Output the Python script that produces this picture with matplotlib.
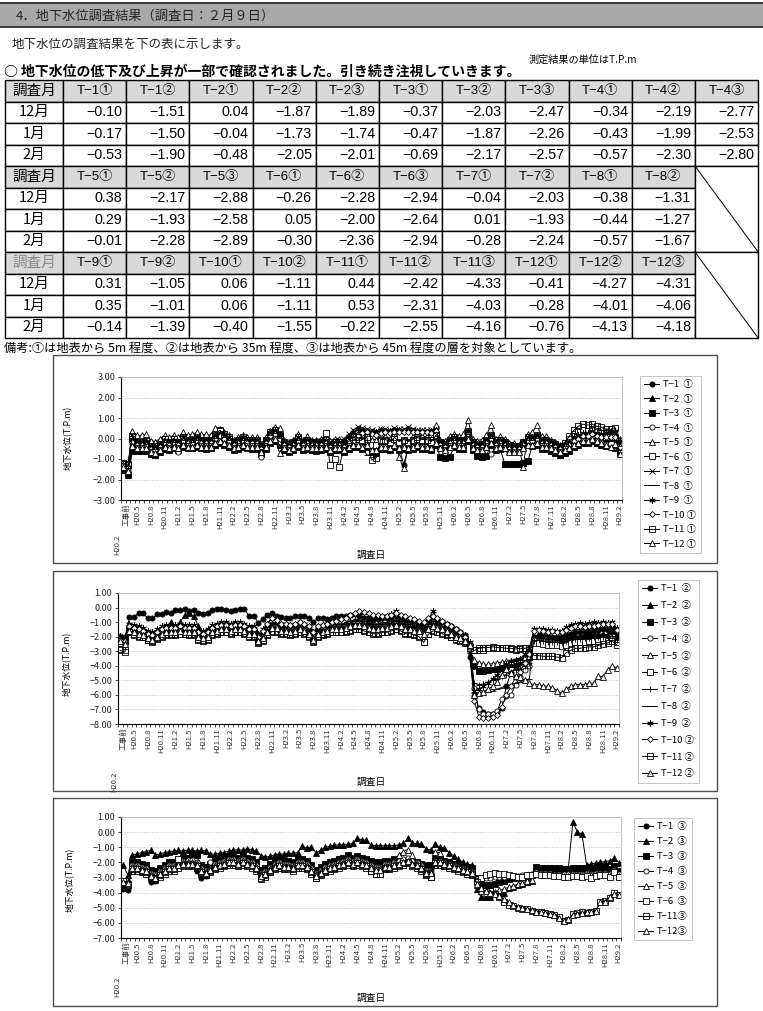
import numpy as np
import matplotlib
matplotlib.use("Agg")
import matplotlib.pyplot as plt
from matplotlib.patches import Rectangle

plt.rcParams['font.family'] = ['Noto Sans CJK JP', 'DejaVu Sans']

# ---------------- monthly groundwater levels (T.P.m), H20.2 .. H29.2 ----------------
# layer 1 (about 5m below ground)
t1_1 = [-1.45, -1.75, -0.55, -0.55, -0.50, -0.50, -0.55, -0.60, -0.45, -0.35,
        -0.40, -0.30, -0.35, -0.25, -0.30, -0.35, -0.25, -0.30, -0.35, -0.30,
        -0.10, 0.00, -0.10, -0.20, -0.40, -0.30, -0.20, -0.30, -0.35, -0.30,
        -0.55, -0.30, 0.00, 0.10, -0.10, -0.40, -0.50, -0.40, -0.20, -0.40,
        -0.30, -0.40, -0.40, -0.35, -0.30, -0.45, -0.40, -0.35, -0.45, -0.30,
        -0.20, -0.20, -0.30, -0.20, -0.45, -0.50, -0.30, -0.30, -0.40, -0.20,
        -0.40, -1.27, -0.45, -0.30, -0.20, -0.30, -0.30, -0.40, -0.10, -0.40,
        -0.50, -0.30, -0.20, -0.30, -0.30, 0.10, -0.40, -0.50, -0.50, -0.30,
        -0.10, -0.40, -0.30, -0.40, -0.60, -0.60, -0.55, -0.40, -0.20, -0.20,
        -0.10, -0.30, -0.30, -0.40, -0.50, -0.60, -0.50, -0.40, -0.20, -0.10,
        0.00, 0.00, 0.10, 0.00, -0.10, -0.15, -0.10, -0.17, -0.53]
t2_1 = [-1.30, -1.55, 0.05, -0.10, -0.15, -0.10, -0.35, -0.40, -0.25, -0.05,
        -0.15, -0.05, -0.15, 0.05, -0.05, -0.05, 0.05, -0.05, -0.05, -0.05,
        0.15, 0.30, 0.15, 0.00, -0.20, -0.10, 0.00, -0.10, -0.10, -0.10,
        -0.40, -0.10, 0.25, 0.40, 0.15, -0.20, -0.30, -0.20, 0.00, -0.20,
        -0.10, -0.20, -0.20, -0.15, -0.10, -0.30, -0.20, -0.20, -0.30, -0.10,
        0.00, 0.00, -0.10, 0.00, -0.30, -0.30, -0.10, -0.10, -0.20, 0.00,
        -0.20, -0.10, -0.20, -0.10, 0.00, -0.10, -0.10, -0.20, 0.15, -0.20,
        -0.30, -0.10, 0.00, -0.10, -0.10, 0.30, -0.20, -0.30, -0.30, -0.10,
        0.10, -0.20, -0.10, -0.20, -0.40, -0.40, -0.40, -0.20, 0.00, 0.00,
        0.10, -0.10, -0.10, -0.20, -0.30, -0.40, -0.30, -0.20, 0.00, 0.10,
        0.20, 0.20, 0.30, 0.20, 0.10, 0.05, 0.04, -0.04, -0.48]
t3_1 = [-1.55, -1.80, -0.60, -0.60, -0.60, -0.60, -0.75, -0.80, -0.65, -0.50,
        -0.55, -0.45, -0.55, -0.40, -0.45, -0.45, -0.40, -0.45, -0.50, -0.45,
        -0.30, -0.20, -0.30, -0.40, -0.55, -0.50, -0.40, -0.45, -0.50, -0.50,
        -0.75, -0.50, -0.20, -0.10, -0.30, -0.55, -0.65, -0.55, -0.40, -0.55,
        -0.50, -0.55, -0.60, -0.55, -0.50, -0.65, -0.55, -0.55, -0.65, -0.50,
        -0.40, -0.40, -0.50, -0.40, -0.65, -0.70, -0.50, -0.50, -0.55, -0.40,
        -0.55, -0.50, -0.55, -0.50, -0.40, -0.50, -0.50, -0.55, -0.30, -0.90,
        -0.95, -0.90, -0.40, -0.50, -0.50, -0.10, -0.55, -0.85, -0.90, -0.85,
        -0.30, -0.55, -0.50, -1.25, -1.25, -1.25, -1.25, -1.20, -1.10, -0.35,
        -0.30, -0.50, -0.50, -0.60, -0.70, -0.80, -0.70, -0.60, -0.40, -0.30,
        -0.20, -0.20, -0.10, -0.20, -0.30, -0.35, -0.37, -0.47, -0.69]
t4_1 = [-1.25, -1.60, -0.40, -0.45, -0.45, -0.45, -0.65, -0.65, -0.55, -0.35,
        -0.45, -0.35, -0.65, -0.25, -0.35, -0.35, -0.25, -0.35, -0.35, -0.35,
        -0.15, -0.05, -0.15, -0.25, -0.45, -0.35, -0.25, -0.35, -0.35, -0.35,
        -0.90, -0.35, -0.05, 0.05, -0.15, -0.45, -0.55, -0.45, -0.25, -0.45,
        -0.35, -0.45, -0.45, -0.45, -0.35, -0.55, -0.45, -0.45, -0.55, -0.35,
        -0.25, -0.25, -0.35, -0.25, -0.55, -0.55, -0.35, -0.35, -0.45, -0.25,
        -0.45, -0.35, -0.45, -0.35, -0.25, -0.35, -0.35, -0.45, -0.15, -0.45,
        -0.55, -0.35, -0.25, -0.35, -0.35, 0.05, -0.45, -0.55, -0.55, -0.35,
        -0.75, -0.45, -0.35, -0.45, -0.65, -0.65, -0.65, -0.45, -0.25, -0.25,
        -0.15, -0.35, -0.35, -0.45, -0.55, -0.65, -0.55, -0.45, -0.25, -0.15,
        -0.05, -0.05, 0.05, -0.05, -0.15, -0.25, -0.34, -0.43, -0.57]
t5_1 = [-1.20, -1.30, 0.35, 0.15, 0.15, 0.20, -0.10, -0.15, 0.00, 0.15,
        0.05, 0.15, 0.05, 0.30, 0.15, 0.20, 0.30, 0.20, 0.20, 0.15,
        0.50, 0.45, 0.30, 0.15, -0.05, 0.05, 0.15, 0.05, 0.05, 0.05,
        -0.25, 0.05, 0.35, 0.55, 0.50, -0.05, -0.15, -0.05, 0.20, -0.05,
        0.10, -0.05, -0.05, 0.00, 0.10, -0.10, 0.00, 0.00, -0.10, 0.10,
        0.20, 0.25, 0.15, 0.20, -0.05, -0.05, 0.10, 0.10, 0.00, 0.20,
        -0.90, -1.46, -0.40, 0.10, 0.15, 0.10, 0.10, 0.20, 0.65, -0.05,
        -0.10, 0.10, 0.20, 0.10, 0.20, 0.90, 0.00, -0.10, -0.05, 0.15,
        0.65, 0.00, 0.10, 0.00, -0.20, -0.20, -0.30, -1.38, 0.20, 0.30,
        0.65, 0.10, 0.10, -0.05, -0.15, -0.30, -0.20, -0.05, 0.15, 0.20,
        0.30, 0.30, 0.40, 0.30, 0.30, 0.35, 0.38, 0.29, -0.01]
t6_1 = [-1.20, -1.25, 0.00, -0.20, -0.20, -0.20, -0.40, -0.45, -0.30, 0.00,
        -0.20, 0.00, -0.15, 0.00, -0.10, -0.10, 0.00, -0.10, -0.10, -0.10,
        0.10, 0.35, 0.10, 0.00, -0.20, -0.10, 0.00, -0.10, -0.10, -0.10,
        -0.40, -0.10, 0.20, 0.30, 0.10, -0.20, -0.30, -0.20, 0.00, -0.20,
        -0.10, -0.20, -0.20, -0.20, 0.25, -1.27, -0.98, -1.38, -0.40, -0.10,
        0.00, 0.00, -0.10, 0.00, -0.30, -0.30, -0.10, -0.10, -0.20, 0.00,
        -0.20, -0.10, -0.20, -0.10, 0.00, -0.10, -0.10, -0.20, 0.10, -0.20,
        -0.30, -0.10, 0.00, -0.10, -0.10, 0.30, -0.20, -0.30, -0.30, -0.10,
        0.10, -0.20, -0.10, -0.20, -0.40, -0.40, -0.40, -0.20, 0.00, 0.00,
        0.10, -0.10, -0.10, -0.20, -0.30, -0.40, -0.20, 0.00, 0.20, 0.35,
        0.40, 0.35, 0.45, 0.35, 0.25, 0.05, -0.26, 0.05, -0.30]
t7_1 = [-1.35, -1.50, -0.10, -0.25, -0.25, -0.25, -0.45, -0.50, -0.35, -0.15,
        -0.25, -0.15, -0.25, -0.05, -0.15, -0.15, -0.05, -0.15, -0.15, -0.15,
        0.05, 0.15, 0.05, -0.05, -0.25, -0.15, -0.05, -0.15, -0.15, -0.15,
        -0.45, -0.15, 0.15, 0.25, 0.05, -0.25, -0.35, -0.25, -0.05, -0.25,
        -0.15, -0.25, -0.25, -0.25, -0.15, -0.35, -0.25, -0.25, 0.00, 0.20,
        0.40, 0.55, 0.50, 0.45, 0.40, 0.35, 0.45, 0.45, 0.40, 0.50,
        0.45, 0.45, 0.55, 0.45, 0.40, 0.40, 0.40, 0.40, 0.45, -0.25,
        -0.35, -0.15, -0.05, -0.15, -0.15, 0.25, -0.25, -0.35, -0.35, -0.15,
        0.05, -0.25, -0.15, -0.25, -0.45, -0.45, -0.45, -0.25, -0.05, -0.05,
        0.05, -0.15, -0.15, -0.25, -0.35, -0.45, -0.35, -0.25, -0.05, 0.05,
        0.15, 0.15, 0.25, 0.15, 0.05, 0.00, -0.04, 0.01, -0.28]
t8_1 = [-1.60, -1.70, -0.55, -0.55, -0.55, -0.55, -0.70, -0.75, -0.65, -0.50,
        -0.55, -0.50, -0.55, -0.40, -0.50, -0.50, -0.40, -0.50, -0.50, -0.50,
        -0.30, -0.20, -0.30, -0.40, -0.55, -0.50, -0.40, -0.50, -0.50, -0.50,
        -0.75, -0.50, -0.20, -0.10, -0.30, -0.55, -0.65, -0.55, -0.40, -0.55,
        -0.50, -0.55, -0.55, -0.55, -0.50, -0.65, -0.55, -0.55, -0.65, -0.50,
        -0.40, -0.40, -0.50, -0.80, -0.80, -0.85, -0.50, -0.50, -0.55, -0.40,
        -0.55, -0.50, -0.55, -0.50, -0.40, -0.50, -0.50, -0.55, -0.30, -0.55,
        -0.65, -0.50, -0.40, -0.50, -0.50, -0.10, -0.55, -0.65, -0.65, -0.50,
        -0.30, -0.55, -0.50, -0.55, -0.75, -0.75, -0.75, -0.55, -0.40, -0.40,
        -0.30, -0.50, -0.50, -0.55, -0.65, -0.75, -0.65, -0.55, -0.40, -0.30,
        -0.20, -0.20, -0.10, -0.20, -0.30, -0.35, -0.38, -0.44, -0.57]
t9_1 = [-1.30, -1.40, 0.00, -0.15, -0.15, -0.15, -0.35, -0.40, -0.25, -0.05,
        -0.15, -0.05, -0.15, 0.05, -0.05, -0.05, 0.05, -0.05, -0.05, -0.05,
        0.15, 0.25, 0.15, 0.05, -0.15, -0.05, 0.05, -0.05, -0.05, -0.05,
        -0.35, -0.05, 0.25, 0.35, 0.15, -0.15, -0.25, -0.15, 0.05, -0.15,
        -0.05, -0.15, -0.15, -0.15, -0.05, -0.25, -0.15, -0.15, -0.20, 0.10,
        0.30, 0.45, 0.40, 0.35, 0.30, 0.30, 0.40, 0.35, 0.35, 0.40,
        0.40, 0.35, 0.45, 0.35, 0.35, 0.35, 0.30, 0.35, 0.40, -0.15,
        -0.25, -0.05, 0.05, -0.05, -0.05, 0.35, -0.15, -0.25, -0.25, -0.05,
        0.15, -0.15, -0.05, -0.15, -0.35, -0.35, -0.35, -0.15, 0.05, 0.05,
        0.15, -0.05, -0.05, -0.15, -0.25, -0.35, -0.25, -0.15, 0.05, 0.15,
        0.25, 0.25, 0.35, 0.25, 0.20, 0.25, 0.31, 0.35, -0.14]
t10_1 = [-1.30, -1.45, -0.15, -0.30, -0.30, -0.30, -0.50, -0.55, -0.40, -0.20,
         -0.30, -0.20, -0.30, -0.10, -0.20, -0.20, -0.10, -0.20, -0.20, -0.20,
         0.00, 0.10, 0.00, -0.10, -0.30, -0.20, -0.10, -0.20, -0.20, -0.20,
         -0.50, -0.20, 0.10, 0.20, 0.00, -0.30, -0.40, -0.30, -0.10, -0.30,
         -0.20, -0.30, -0.30, -0.30, -0.20, -0.40, -0.30, -0.30, -0.40, -0.20,
         -0.10, 0.10, 0.25, 0.30, 0.20, 0.15, 0.25, 0.30, 0.25, 0.30,
         0.30, 0.30, 0.30, 0.30, 0.30, 0.30, 0.30, 0.25, 0.35, -0.30,
         -0.40, -0.20, -0.10, -0.20, -0.20, 0.20, -0.30, -0.40, -0.40, -0.20,
         0.00, -0.30, -0.20, -0.30, -0.50, -0.50, -0.50, -0.30, -0.10, -0.10,
         0.00, -0.20, -0.20, -0.30, -0.40, -0.50, -0.40, -0.30, -0.10, 0.00,
         0.10, 0.10, 0.20, 0.10, 0.05, 0.05, 0.06, 0.06, -0.40]
t11_1 = [-1.25, -1.30, 0.10, -0.15, -0.15, -0.10, -0.35, -0.35, -0.25, 0.00,
         -0.15, 0.00, -0.15, 0.05, -0.05, 0.00, 0.05, -0.05, -0.05, -0.05,
         0.15, 0.40, 0.20, 0.05, -0.15, -0.05, 0.05, -0.05, -0.05, -0.05,
         -0.35, -0.05, 0.30, 0.40, 0.15, -0.15, -0.25, -0.15, 0.05, -0.15,
         -0.05, -0.15, -0.15, -0.15, -0.05, -0.25, -0.15, -0.15, -0.25, -0.05,
         0.05, 0.05, -0.05, 0.05, -1.05, -0.95, -0.05, -0.05, -0.15, 0.05,
         -0.15, -0.05, -0.15, -0.05, 0.05, -0.05, -0.05, -0.15, 0.15, -0.15,
         -0.25, -0.05, 0.05, -0.05, -0.05, 0.35, -0.15, -0.25, -0.25, -0.05,
         0.15, -0.15, -0.05, -0.15, -0.35, -0.35, -0.35, -0.15, 0.05, 0.05,
         0.15, -0.05, -0.05, -0.15, -0.25, -0.35, -0.20, 0.10, 0.40, 0.60,
         0.70, 0.65, 0.70, 0.60, 0.55, 0.45, 0.44, 0.53, -0.22]
t12_1 = [-1.40, -1.60, -0.35, -0.45, -0.45, -0.45, -0.65, -0.70, -0.55, -0.40,
         -0.45, -0.40, -0.45, -0.30, -0.40, -0.40, -0.30, -0.40, -0.40, -0.40,
         -0.20, -0.10, -0.20, -0.30, -0.45, -0.40, -0.30, -0.40, -0.40, -0.40,
         -0.65, -0.40, -0.10, 0.00, -0.70, -0.45, -0.55, -0.45, -0.30, -0.45,
         -0.40, -0.45, -0.45, -0.45, -0.40, -0.55, -0.45, -0.45, -0.55, -0.40,
         -0.30, -0.30, -0.40, -0.30, -0.55, -0.55, -0.40, -0.40, -0.45, -0.30,
         -0.45, -0.40, -0.45, -0.40, -0.30, -0.40, -0.40, -0.45, -0.20, -0.45,
         -0.55, -0.40, -0.30, -0.40, -0.40, 0.00, -0.45, -0.55, -0.55, -0.40,
         -0.20, -0.45, -0.40, -0.45, -0.65, -0.65, -0.65, -0.45, -0.30, -0.30,
         -0.20, -0.40, -0.40, -0.45, -0.55, -0.65, -0.55, -0.45, -0.30, -0.20,
         -0.10, -0.10, 0.00, -0.10, -0.20, -0.30, -0.41, -0.28, -0.76]

# layer 2 (about 35m below ground)
t1_2 = [-2.00, -2.05, -0.68, -0.68, -0.34, -0.40, -0.75, -0.75, -0.45, -0.45,
        -0.30, -0.34, -0.18, -0.18, -0.07, -0.23, -0.18, -0.34, -0.41, -0.34,
        -0.18, -0.10, -0.07, -0.18, -0.27, -0.18, -0.10, -0.10, -0.57, -0.57,
        -1.03, -0.80, -0.50, -0.39, -0.55, -0.65, -0.75, -0.70, -0.60, -0.55,
        -0.60, -0.75, -1.00, -0.75, -0.70, -0.80, -0.70, -0.60, -0.60, -0.55,
        -0.50, -0.45, -0.60, -0.70, -0.80, -0.85, -0.80, -0.75, -0.70, -0.70,
        -0.60, -0.70, -0.90, -0.90, -1.00, -1.10, -1.20, -0.90, -0.80, -0.90,
        -1.00, -1.10, -1.30, -1.50, -1.70, -1.90, -3.40, -6.05, -6.90, -7.20,
        -7.30, -7.30, -7.20, -6.90, -5.40, -4.50, -4.10, -3.80, -3.50, -3.20,
        -2.00, -1.90, -1.90, -1.95, -2.00, -2.05, -2.05, -1.90, -1.80, -1.70,
        -1.70, -1.65, -1.70, -1.60, -1.55, -1.50, -1.51, -1.50, -1.90]
t2_2 = [-2.00, -2.20, -1.35, -1.45, -1.55, -1.65, -1.85, -1.95, -1.75, -1.55,
        -1.45, -1.00, -1.40, -1.00, -0.50, -0.40, -0.60, -1.30, -1.85, -1.75,
        -1.45, -1.35, -1.25, -1.25, -1.35, -1.25, -1.25, -1.35, -1.55, -1.55,
        -2.05, -1.85, -1.45, -1.15, -1.15, -1.35, -1.35, -1.45, -1.35, -1.25,
        -1.35, -1.55, -1.95, -1.55, -1.45, -1.35, -1.25, -1.25, -1.25, -1.15,
        -1.05, -0.95, -0.95, -1.05, -1.15, -1.25, -1.25, -1.15, -1.15, -1.05,
        -0.95, -1.05, -1.25, -1.25, -1.35, -1.35, -1.55, -1.25, -1.05, -1.15,
        -1.25, -1.35, -1.55, -1.75, -1.85, -2.05, -2.70, -3.90, -4.30, -4.30,
        -4.20, -4.20, -4.10, -4.00, -3.90, -3.80, -3.70, -3.60, -3.50, -3.30,
        -2.20, -2.10, -2.15, -2.20, -2.20, -2.25, -2.30, -2.15, -2.00, -1.95,
        -1.95, -1.90, -1.90, -1.85, -1.85, -1.80, -1.87, -1.73, -2.05]
t3_2 = [-2.10, -2.30, -1.45, -1.55, -1.65, -1.75, -1.95, -2.05, -1.85, -1.65,
        -1.55, -1.55, -1.55, -1.45, -1.55, -1.55, -1.55, -1.85, -1.95, -1.85,
        -1.55, -1.45, -1.35, -1.35, -1.45, -1.35, -1.35, -1.45, -1.65, -1.65,
        -2.15, -1.95, -1.55, -1.25, -1.25, -1.45, -1.45, -1.55, -1.45, -1.35,
        -1.45, -1.65, -2.05, -1.65, -1.55, -1.45, -1.35, -1.35, -1.35, -1.25,
        -1.15, -1.05, -1.05, -1.15, -1.25, -1.35, -1.35, -1.25, -1.25, -1.15,
        -1.05, -1.15, -1.35, -1.35, -1.45, -1.45, -1.65, -1.35, -1.15, -1.25,
        -1.35, -1.45, -1.65, -1.85, -1.95, -2.15, -2.80, -4.00, -4.35, -4.35,
        -4.30, -4.25, -4.20, -4.10, -4.00, -3.90, -3.80, -3.70, -3.55, -3.40,
        -2.30, -2.25, -2.30, -2.35, -2.35, -2.40, -2.45, -2.30, -2.20, -2.15,
        -2.15, -2.10, -2.10, -2.05, -2.05, -2.00, -2.03, -1.87, -2.17]
t4_2 = [-1.95, -2.10, -1.30, -1.40, -1.50, -1.60, -1.80, -1.90, -1.70, -1.50,
        -1.40, -1.40, -1.40, -1.30, -1.40, -1.40, -1.40, -1.70, -1.80, -1.70,
        -1.40, -1.30, -1.20, -1.20, -1.30, -1.20, -1.20, -1.30, -1.50, -1.50,
        -2.00, -1.80, -1.40, -1.10, -1.10, -1.30, -1.30, -1.40, -1.30, -1.20,
        -1.30, -1.50, -1.90, -1.50, -1.40, -1.30, -1.20, -1.20, -1.20, -1.10,
        -1.00, -0.90, -0.90, -1.00, -1.10, -1.20, -1.20, -1.10, -1.10, -1.00,
        -0.90, -1.00, -1.20, -1.20, -1.30, -1.30, -1.50, -1.20, -1.00, -1.10,
        -1.20, -1.30, -1.50, -1.70, -1.80, -2.00, -2.50, -5.50, -7.00, -7.30,
        -7.30, -7.30, -7.10, -6.30, -6.10, -6.00, -5.30, -4.80, -4.30, -4.00,
        -2.25, -2.30, -2.30, -2.35, -2.40, -2.45, -2.50, -2.40, -2.30, -2.25,
        -2.25, -2.20, -2.25, -2.20, -2.20, -2.15, -2.19, -1.99, -2.30]
t5_2 = [-2.20, -2.40, -1.50, -1.60, -1.70, -1.80, -2.00, -2.10, -1.90, -1.70,
        -1.60, -1.60, -1.60, -1.50, -1.60, -1.60, -1.60, -1.90, -2.00, -1.90,
        -1.60, -1.50, -1.40, -1.40, -1.50, -1.40, -1.40, -1.50, -1.70, -1.70,
        -2.20, -2.00, -1.60, -1.30, -1.30, -1.50, -1.50, -1.60, -1.50, -1.40,
        -1.50, -1.70, -2.10, -1.70, -1.60, -1.50, -1.40, -1.40, -1.40, -1.30,
        -1.20, -1.10, -1.10, -1.20, -1.30, -1.40, -1.40, -1.30, -1.30, -1.20,
        -1.10, -1.20, -1.40, -1.40, -1.50, -1.50, -1.70, -1.40, -1.20, -1.30,
        -1.40, -1.50, -1.70, -1.90, -2.00, -2.20, -2.90, -3.60, -3.80, -3.90,
        -3.90, -3.85, -3.80, -3.75, -3.70, -3.65, -3.60, -3.50, -3.40, -3.30,
        -2.35, -2.35, -2.40, -2.45, -2.45, -2.50, -2.55, -2.45, -2.35, -2.30,
        -2.30, -2.25, -2.25, -2.20, -2.20, -2.20, -2.17, -1.93, -2.28]
t6_2 = [-2.85, -2.95, -1.65, -1.85, -1.95, -2.00, -2.20, -2.30, -2.10, -1.95,
        -1.85, -1.85, -1.85, -1.80, -1.80, -1.85, -1.85, -2.15, -2.25, -2.15,
        -1.85, -1.75, -1.65, -1.65, -1.75, -1.65, -1.65, -1.75, -1.95, -1.95,
        -2.40, -2.25, -1.85, -1.60, -1.60, -1.75, -1.75, -1.85, -1.75, -1.65,
        -1.75, -1.95, -2.30, -1.95, -1.85, -1.75, -1.65, -1.65, -1.65, -1.60,
        -1.55, -1.45, -1.45, -1.55, -1.65, -1.75, -1.75, -1.65, -1.65, -1.55,
        -1.45, -1.55, -1.75, -1.75, -1.85, -1.95, -2.35, -1.80, -1.55, -1.65,
        -1.75, -1.85, -2.00, -2.15, -2.25, -2.40, -2.70, -2.90, -2.95, -2.90,
        -2.80, -2.75, -2.75, -2.80, -2.80, -2.85, -2.90, -2.85, -2.80, -2.75,
        -2.45, -2.45, -2.50, -2.55, -2.55, -2.60, -2.65, -2.55, -2.45, -2.40,
        -2.40, -2.35, -2.35, -2.30, -2.30, -2.25, -2.28, -2.00, -2.36]
t7_2 = [-2.00, -2.10, -1.25, -1.35, -1.45, -1.55, -1.75, -1.85, -1.65, -1.45,
        -1.35, -1.35, -1.35, -1.25, -1.35, -1.35, -1.35, -1.65, -1.75, -1.65,
        -1.35, -1.25, -1.15, -1.15, -1.25, -1.15, -1.15, -1.25, -1.45, -1.45,
        -2.30, -1.75, -1.35, -1.05, -1.05, -1.25, -1.25, -1.35, -1.25, -1.15,
        -1.25, -1.45, -1.85, -1.45, -1.35, -1.25, -1.15, -1.15, -1.15, -1.05,
        -0.95, -0.85, -0.85, -0.95, -1.05, -1.15, -1.15, -1.05, -1.05, -0.95,
        -0.85, -0.95, -1.15, -1.15, -1.25, -1.25, -1.45, -1.15, -0.95, -1.05,
        -1.15, -1.25, -1.45, -1.65, -1.75, -1.95, -2.60, -5.20, -5.30, -5.25,
        -5.10, -5.00, -4.90, -4.70, -4.60, -4.40, -4.30, -4.20, -4.00, -3.80,
        -2.30, -2.25, -2.30, -2.35, -2.35, -2.40, -2.45, -2.30, -2.20, -2.15,
        -2.15, -2.10, -2.10, -2.05, -2.05, -2.00, -2.03, -1.93, -2.24]
t8_2 = [-2.05, -2.20, -1.35, -1.45, -1.55, -1.65, -1.85, -1.95, -1.75, -1.55,
        -1.45, -1.45, -1.45, -1.35, -1.45, -1.45, -1.45, -1.75, -1.85, -1.75,
        -1.45, -1.35, -1.25, -1.25, -1.35, -1.25, -1.25, -1.35, -1.55, -1.55,
        -2.05, -1.85, -1.45, -1.15, -1.15, -1.35, -1.35, -1.45, -1.35, -1.25,
        -1.35, -1.55, -1.95, -1.55, -1.45, -1.35, -1.25, -1.25, -1.25, -1.15,
        -1.05, -0.95, -0.95, -1.05, -1.15, -1.25, -1.25, -1.15, -1.15, -1.05,
        -0.95, -1.05, -1.25, -1.25, -1.35, -1.35, -1.55, -1.25, -1.05, -1.15,
        -1.25, -1.35, -1.55, -1.75, -1.85, -2.05, -2.60, -5.90, -5.85, -5.80,
        -5.80, -5.75, -5.60, -5.50, -5.40, -5.30, -5.20, -5.10, -5.00, -4.90,
        -1.60, -1.60, -1.65, -1.70, -1.70, -1.75, -1.80, -1.65, -1.55, -1.50,
        -1.50, -1.45, -1.45, -1.40, -1.40, -1.35, -1.31, -1.27, -1.67]
t9_2 = [-1.95, -2.05, -1.10, -1.20, -1.30, -1.40, -1.60, -1.70, -1.50, -1.30,
        -1.20, -1.20, -1.20, -1.10, -1.20, -1.20, -1.20, -1.50, -1.60, -1.50,
        -1.20, -1.10, -1.00, -1.00, -1.10, -1.00, -1.00, -1.10, -1.30, -1.30,
        -1.80, -1.50, -1.10, -0.70, -0.90, -1.10, -1.10, -1.20, -1.10, -1.00,
        -1.10, -1.30, -1.70, -1.30, -1.20, -1.10, -1.00, -0.90, -0.80, -0.70,
        -0.55, -0.45, -0.30, -0.40, -0.50, -0.60, -0.65, -0.60, -0.55, -0.45,
        -0.23, -0.60, -0.80, -0.90, -1.00, -1.10, -1.20, -0.90, -0.23, -0.80,
        -0.95, -1.10, -1.30, -1.50, -1.70, -1.90, -2.40, -5.70, -5.60, -5.40,
        -5.20, -4.90, -4.60, -4.30, -3.90, -3.70, -3.60, -3.50, -3.20, -2.80,
        -1.45, -1.50, -1.50, -1.55, -1.55, -1.60, -1.60, -1.35, -1.20, -1.10,
        -1.05, -1.10, -1.05, -1.00, -1.05, -1.00, -1.05, -1.01, -1.39]
t10_2 = [-2.20, -2.30, -1.30, -1.40, -1.50, -1.60, -1.80, -1.90, -1.70, -1.50,
         -1.40, -1.40, -1.40, -1.30, -1.40, -1.40, -1.40, -1.70, -1.80, -1.70,
         -1.40, -1.30, -1.20, -1.20, -1.30, -1.20, -1.20, -1.30, -1.50, -1.50,
         -2.00, -1.60, -1.10, -0.75, -0.85, -1.10, -1.10, -1.20, -1.10, -1.00,
         -1.10, -1.30, -1.70, -1.30, -1.20, -1.10, -1.00, -0.90, -0.80, -0.70,
         -0.50, -0.35, -0.25, -0.30, -0.40, -0.50, -0.50, -0.60, -0.60, -0.50,
         -0.40, -0.50, -0.60, -0.70, -0.80, -0.90, -1.00, -0.70, -0.55, -0.75,
         -0.90, -1.10, -1.30, -1.50, -1.70, -2.00, -2.90, -6.40, -7.50, -7.60,
         -7.60, -7.55, -7.40, -6.80, -6.00, -5.40, -4.80, -4.40, -3.80, -3.20,
         -1.60, -1.55, -1.60, -1.65, -1.60, -1.70, -1.70, -1.55, -1.40, -1.30,
         -1.30, -1.35, -1.25, -1.25, -1.20, -1.15, -1.11, -1.11, -1.55]
t11_2 = [-2.95, -3.05, -1.70, -1.90, -2.00, -2.05, -2.25, -2.35, -2.15, -2.00,
         -1.90, -1.90, -1.90, -1.85, -1.85, -1.90, -1.90, -2.20, -2.30, -2.20,
         -1.90, -1.80, -1.70, -1.70, -1.80, -1.70, -1.70, -1.80, -2.00, -2.00,
         -2.45, -2.30, -1.90, -1.65, -1.65, -1.80, -1.80, -1.90, -1.80, -1.70,
         -1.80, -2.00, -2.35, -2.00, -1.90, -1.80, -1.70, -1.70, -1.70, -1.65,
         -1.60, -1.50, -1.50, -1.60, -1.70, -1.80, -1.80, -1.70, -1.70, -1.60,
         -1.50, -1.60, -1.80, -1.80, -1.90, -2.00, -2.40, -1.85, -1.60, -1.70,
         -1.80, -1.90, -2.05, -2.20, -2.30, -2.45, -2.75, -2.95, -2.80, -2.75,
         -2.75, -2.70, -2.75, -2.75, -2.80, -2.80, -2.85, -2.80, -2.80, -2.75,
         -3.30, -3.30, -3.35, -3.35, -3.35, -3.40, -3.45, -3.10, -2.95, -2.80,
         -2.80, -2.75, -2.70, -2.70, -2.60, -2.50, -2.42, -2.31, -2.55]
t12_2 = [-2.30, -2.50, -1.60, -1.70, -1.80, -1.90, -2.10, -2.20, -2.00, -1.80,
         -1.70, -1.70, -1.70, -1.60, -1.70, -1.70, -1.70, -2.00, -2.10, -2.00,
         -1.70, -1.60, -1.50, -1.50, -1.60, -1.50, -1.50, -1.60, -1.80, -1.80,
         -2.30, -2.10, -1.70, -1.40, -1.40, -1.60, -1.60, -1.70, -1.60, -1.50,
         -1.60, -1.80, -2.20, -1.80, -1.70, -1.60, -1.50, -1.50, -1.50, -1.40,
         -1.30, -1.20, -1.20, -1.30, -1.40, -1.50, -1.50, -1.40, -1.40, -1.30,
         -1.20, -1.30, -1.50, -1.50, -1.60, -1.60, -1.80, -1.50, -1.30, -1.40,
         -1.50, -1.60, -1.80, -2.00, -2.10, -2.30, -2.60, -6.00, -5.90, -5.80,
         -5.60, -5.40, -5.10, -4.60, -4.20, -4.50, -4.70, -4.80, -5.00, -5.20,
         -5.30, -5.30, -5.40, -5.40, -5.50, -5.70, -5.90, -5.60, -5.40, -5.30,
         -5.30, -5.30, -5.20, -5.20, -4.70, -4.75, -4.27, -4.01, -4.13]

# layer 3 (about 45m below ground); T-1 ends at H26.5
t1_3 = [-3.78, -3.80, -2.10, -2.40, -2.50, -2.60, -3.30, -3.20, -2.75, -2.40,
        -2.25, -2.20, -2.10, -2.00, -2.05, -2.20, -2.60, -3.05, -2.90, -2.50,
        -2.30, -2.20, -2.10, -2.00, -2.00, -2.10, -2.00, -2.10, -2.20, -2.40,
        -2.90, -2.80, -2.50, -2.30, -2.20, -2.30, -2.30, -2.40, -2.20, -2.20,
        -2.30, -2.60, -2.90, -2.70, -2.50, -2.40, -2.30, -2.20, -2.10, -2.00,
        -2.10, -2.00, -2.10, -2.20, -2.40, -2.50, -2.50, -2.30, -2.30, -2.20,
        -2.10, -2.00, -1.90, -2.10, -2.20, -2.40, -2.70, -2.70, -2.00, -2.00,
        -2.10, -2.20, -2.30, -2.40, -2.50, -2.60]
t2_3 = [-2.20, -2.85, -1.50, -1.45, -1.35, -1.30, -1.20, -1.50, -1.45, -1.35,
        -1.30, -1.25, -1.20, -1.25, -1.20, -1.20, -1.25, -1.20, -1.25, -1.45,
        -1.45, -1.40, -1.35, -1.25, -1.20, -1.15, -1.20, -1.10, -1.15, -1.25,
        -1.55, -1.65, -1.60, -1.50, -1.45, -1.45, -1.40, -1.40, -1.35, -0.95,
        -1.05, -1.00, -1.35, -1.20, -1.00, -0.95, -0.85, -0.85, -0.85, -0.80,
        -0.75, -0.42, -0.50, -0.55, -0.85, -0.90, -0.90, -0.90, -0.90, -0.90,
        -0.85, -0.75, -0.42, -0.75, -0.75, -0.80, -1.10, -1.20, -0.80, -1.00,
        -1.05, -1.35, -1.55, -1.80, -2.00, -2.10, -2.20, -3.75, -4.30, -4.30,
        -4.30, -4.10, -4.05, -4.00, -3.70, -3.60, -3.50, -3.40, -3.30, -3.20,
        -2.40, -2.45, -2.45, -2.50, -2.50, -2.55, -2.55, -2.45, 0.67, 0.00,
        -0.15, -2.20, -2.10, -2.05, -2.00, -1.95, -1.89, -1.74, -2.01]
t3_3 = [-3.40, -3.50, -2.00, -2.00, -2.10, -2.20, -2.50, -2.60, -2.40, -2.20,
        -2.00, -2.00, -1.80, -1.70, -1.70, -1.45, -1.50, -2.20, -2.30, -2.10,
        -1.90, -1.80, -1.70, -1.60, -1.60, -1.70, -1.60, -1.70, -1.80, -2.00,
        -2.50, -2.40, -2.10, -1.90, -1.80, -1.90, -1.90, -2.00, -1.80, -1.80,
        -1.90, -2.20, -2.50, -2.30, -2.10, -2.00, -1.90, -1.80, -1.70, -1.50,
        -1.70, -1.60, -1.70, -1.80, -1.90, -2.00, -2.00, -1.90, -1.90, -1.80,
        -1.90, -1.95, -2.00, -2.00, -2.00, -2.10, -2.20, -2.20, -1.70, -1.80,
        -1.90, -2.00, -2.10, -2.20, -2.30, -2.30, -2.40, -3.00, -3.40, -3.50,
        -3.50, -3.40, -3.30, -3.20, -3.10, -3.00, -3.00, -2.95, -2.90, -2.85,
        -2.30, -2.35, -2.35, -2.40, -2.40, -2.40, -2.45, -2.45, -2.40, -2.40,
        -2.40, -2.40, -2.40, -2.35, -2.35, -2.30, -2.47, -2.26, -2.57]
t4_3 = [-3.30, -3.30, -2.20, -2.20, -2.30, -2.40, -2.70, -2.80, -2.60, -2.40,
        -2.20, -2.20, -2.00, -1.90, -1.85, -1.85, -2.00, -2.40, -2.50, -2.00,
        -2.10, -2.00, -1.90, -1.80, -1.80, -1.90, -1.80, -1.90, -2.00, -2.20,
        -2.70, -2.60, -2.30, -2.10, -2.00, -2.10, -2.10, -2.20, -2.00, -2.00,
        -2.10, -2.40, -2.70, -2.50, -2.30, -2.20, -2.10, -2.00, -1.90, -1.80,
        -1.90, -1.80, -1.90, -2.00, -2.20, -2.30, -2.30, -2.10, -2.10, -2.00,
        -1.90, -1.80, -1.70, -1.90, -2.00, -2.20, -2.50, -2.50, -1.90, -1.90,
        -2.00, -2.10, -2.20, -2.30, -2.40, -2.50, -2.60, -3.10, -3.10, -3.00,
        -3.00, -2.95, -2.95, -2.95, -2.90, -2.90, -2.90, -2.85, -2.85, -2.80,
        -2.65, -2.70, -2.70, -2.70, -2.75, -2.75, -2.80, -2.80, -2.75, -2.75,
        -2.75, -2.70, -2.75, -2.70, -2.70, -2.70, -2.77, -2.53, -2.80]
t5_3 = [-3.35, -3.40, -2.25, -2.25, -2.35, -2.45, -2.75, -2.85, -2.65, -2.45,
        -2.25, -2.25, -2.05, -1.95, -1.95, -1.95, -2.05, -2.45, -2.55, -2.35,
        -2.15, -2.05, -1.95, -1.85, -1.85, -1.95, -1.85, -1.95, -2.05, -2.25,
        -2.75, -2.65, -2.35, -2.15, -2.05, -2.15, -2.15, -2.25, -2.05, -2.05,
        -2.15, -2.45, -2.75, -2.55, -2.35, -2.25, -2.15, -2.05, -1.95, -1.85,
        -1.95, -1.85, -1.95, -2.05, -2.25, -2.35, -2.35, -2.15, -2.15, -2.05,
        -1.50, -1.30, -1.15, -1.50, -2.05, -2.25, -2.55, -2.55, -1.30, -1.35,
        -1.95, -2.05, -2.15, -2.25, -2.35, -2.45, -2.55, -3.50, -3.90, -4.00,
        -4.00, -3.95, -3.85, -3.75, -3.65, -3.55, -3.45, -3.35, -3.25, -3.15,
        -2.75, -2.80, -2.80, -2.80, -2.85, -2.85, -2.90, -2.90, -2.85, -2.85,
        -2.85, -2.80, -2.85, -2.80, -2.80, -2.80, -2.88, -2.58, -2.89]
t6_3 = [-3.25, -3.50, -2.45, -2.45, -2.55, -2.65, -2.95, -3.05, -2.85, -2.65,
        -2.45, -2.45, -1.80, -2.15, -2.15, -2.15, -2.25, -2.65, -2.75, -2.55,
        -2.35, -2.25, -2.15, -2.05, -2.05, -2.15, -2.05, -2.15, -2.25, -2.45,
        -3.05, -2.85, -2.55, -2.35, -2.25, -2.35, -2.35, -2.45, -2.25, -2.25,
        -2.35, -2.65, -3.00, -2.75, -2.55, -2.45, -2.35, -2.25, -2.15, -2.05,
        -2.15, -2.05, -2.15, -2.25, -2.55, -2.75, -2.75, -2.35, -2.35, -2.25,
        -2.15, -2.05, -1.95, -2.15, -2.25, -2.45, -2.75, -2.95, -2.05, -2.05,
        -2.15, -2.25, -2.35, -2.45, -2.55, -2.65, -2.75, -3.20, -3.00, -2.85,
        -2.75, -2.70, -2.75, -2.80, -2.85, -2.90, -2.95, -2.95, -2.85, -2.85,
        -2.80, -2.85, -2.85, -2.85, -2.90, -2.90, -2.95, -2.95, -2.90, -2.90,
        -2.95, -2.90, -3.00, -2.90, -2.85, -2.85, -2.94, -2.64, -2.94]
t11_3 = [-3.45, -3.45, -2.55, -2.55, -2.65, -2.75, -3.05, -3.15, -2.95, -2.75,
         -2.55, -2.55, -2.35, -2.25, -2.25, -2.25, -2.35, -2.75, -2.85, -2.65,
         -2.45, -2.35, -2.25, -2.15, -2.15, -2.25, -2.15, -2.25, -2.35, -2.55,
         -3.10, -2.95, -2.65, -2.45, -2.35, -2.45, -2.45, -2.55, -2.35, -2.35,
         -2.45, -2.75, -3.00, -2.85, -2.65, -2.55, -2.45, -2.35, -2.25, -2.15,
         -2.25, -2.15, -2.25, -2.35, -2.55, -2.75, -2.75, -2.45, -2.45, -2.35,
         -2.25, -2.15, -2.05, -2.25, -2.35, -2.55, -2.85, -2.95, -2.15, -2.15,
         -2.25, -2.35, -2.45, -2.55, -2.65, -2.75, -2.85, -3.30, -3.50, -3.70,
         -3.90, -4.10, -4.30, -4.60, -4.80, -4.90, -5.00, -5.05, -5.10, -5.20,
         -5.30, -5.30, -5.35, -5.40, -5.45, -5.60, -5.90, -5.80, -5.40, -5.35,
         -5.30, -5.35, -5.30, -5.20, -4.60, -4.55, -4.33, -4.03, -4.16]
t12_3 = [-3.30, -3.35, -2.40, -2.40, -2.50, -2.60, -2.90, -3.00, -2.80, -2.60,
         -2.40, -2.40, -2.20, -2.10, -2.10, -2.10, -2.20, -2.60, -2.70, -2.50,
         -2.30, -2.20, -2.10, -2.00, -2.00, -2.10, -2.00, -2.10, -2.20, -2.40,
         -2.90, -2.80, -2.50, -2.30, -2.20, -2.30, -2.30, -2.40, -2.20, -2.20,
         -2.30, -2.60, -2.90, -2.70, -2.50, -2.40, -2.30, -2.20, -2.10, -2.00,
         -2.10, -2.00, -2.10, -2.20, -2.40, -2.50, -2.50, -2.30, -2.30, -2.20,
         -2.10, -2.00, -1.90, -2.10, -2.20, -2.40, -2.70, -2.70, -2.00, -2.00,
         -2.10, -2.20, -2.30, -2.40, -2.50, -2.60, -2.70, -3.40, -3.70, -3.90,
         -4.00, -4.10, -4.20, -4.40, -4.60, -4.80, -4.95, -5.00, -5.05, -5.15,
         -5.25, -5.30, -5.35, -5.40, -5.50, -5.65, -5.85, -5.75, -5.45, -5.40,
         -5.35, -5.30, -5.30, -5.20, -4.65, -4.60, -4.31, -4.06, -4.18]

# x-axis labels, one every third survey month from H20.5
tick_labels = ["H20.5", "H20.8", "H20.11", "H21.2", "H21.5", "H21.8", "H21.11",
               "H22.2", "H22.5", "H22.8", "H22.11", "H23.2", "H23.5", "H23.8",
               "H23.11", "H24.2", "H24.5", "H24.8", "H24.11", "H25.2", "H25.5",
               "H25.8", "H25.11", "H26.2", "H26.5", "H26.8", "H26.11", "H27.2",
               "H27.5", "H27.8", "H27.11", "H28.2", "H28.5", "H28.8", "H28.11",
               "H29.2"]
first_label = ["H20.2", "工事前"]

table_months = ["12月", "1月", "2月"]
table_blocks = [
    [("T-1", 1), ("T-1", 2), ("T-2", 1), ("T-2", 2), ("T-2", 3), ("T-3", 1),
     ("T-3", 2), ("T-3", 3), ("T-4", 1), ("T-4", 2), ("T-4", 3)],
    [("T-5", 1), ("T-5", 2), ("T-5", 3), ("T-6", 1), ("T-6", 2), ("T-6", 3),
     ("T-7", 1), ("T-7", 2), ("T-8", 1), ("T-8", 2)],
    [("T-9", 1), ("T-9", 2), ("T-10", 1), ("T-10", 2), ("T-11", 1), ("T-11", 2),
     ("T-11", 3), ("T-12", 1), ("T-12", 2), ("T-12", 3)],
]

legend_labels = [
    ["T−1  ①", "T−2  ①", "T−3  ①", "T−4  ①", "T−5  ①", "T−6  ①",
     "T−7  ①", "T−8  ①", "T−9  ①", "T−10 ①", "T−11 ①", "T−12 ①"],
    ["T−1  ②", "T−2  ②", "T−3  ②", "T−4  ②", "T−5  ②", "T−6  ②",
     "T−7  ②", "T−8  ②", "T−9  ②", "T−10 ②", "T−11 ②", "T−12 ②"],
    ["T−1  ③", "T−2  ③", "T−3  ③", "T−4  ③", "T−5  ③", "T−6  ③",
     "T−11③", "T−12③"],
]

layers = {
    1: {"T-1": t1_1, "T-2": t2_1, "T-3": t3_1, "T-4": t4_1, "T-5": t5_1, "T-6": t6_1,
        "T-7": t7_1, "T-8": t8_1, "T-9": t9_1, "T-10": t10_1, "T-11": t11_1, "T-12": t12_1},
    2: {"T-1": t1_2, "T-2": t2_2, "T-3": t3_2, "T-4": t4_2, "T-5": t5_2, "T-6": t6_2,
        "T-7": t7_2, "T-8": t8_2, "T-9": t9_2, "T-10": t10_2, "T-11": t11_2, "T-12": t12_2},
    3: {"T-1": t1_3, "T-2": t2_3, "T-3": t3_3, "T-4": t4_3, "T-5": t5_3, "T-6": t6_3,
        "T-11": t11_3, "T-12": t12_3},
}
n_months = len(t1_1)
for lay in layers.values():
    for name, vals in lay.items():
        assert len(vals) == n_months or vals is t1_3, (name, len(vals))

circ = {1: "①", 2: "②", 3: "③"}

styles = {
    "T-1": dict(marker='o', mfc='black'),
    "T-2": dict(marker='^', mfc='black'),
    "T-3": dict(marker='s', mfc='black'),
    "T-4": dict(marker='o', mfc='white'),
    "T-5": dict(marker='^', mfc='white'),
    "T-6": dict(marker='s', mfc='white'),
    "T-7": dict(marker='x'),
    "T-8": dict(marker='_', ms=4.5),
    "T-9": dict(marker=(6, 2, 0), ms=4.6),
    "T-10": dict(marker='D', mfc='white', ms=3.0),
    "T-11": dict(marker='s', mfc='none'),
    "T-12": dict(marker='^', mfc='white', ms=4.4),
}


def fmt(v):
    return f"{v:.2f}".replace("-", "−")


W, H = 763, 1011
fig = plt.figure(figsize=(W / 100, H / 100), dpi=100)
bg = fig.add_axes([0, 0, 1, 1])
bg.set_xlim(0, W)
bg.set_ylim(H, 0)
bg.axis('off')

# section heading band
bg.add_patch(Rectangle((0, 3), W, 24, fc='#a9a9a9', ec='none'))
bg.plot([0, W], [3, 3], color='#3a3a3a', lw=1.4)
bg.plot([0, W], [27, 27], color='#3a3a3a', lw=1.4)
bg.text(16, 16, "4．地下水位調査結果（調査日：２月９日）", fontsize=9.5, va='center', color='#222222')
bg.text(12, 44, "地下水位の調査結果を下の表に示します。", fontsize=9, va='center', color='#222222')
bg.text(529, 60, "測定結果の単位はT.P.m", fontsize=7.3, va='center')
bg.text(4, 72, "○ 地下水位の低下及び上昇が一部で確認されました。引き続き注視していきます。",
        fontsize=10, fontweight='bold', va='center')

# ---------------- table of the last three surveys ----------------
col_x = [5] + [63 + 63.2 * k for k in range(12)]
row_y = [80 + 21.5 * r for r in range(13)]
num_font = ['Liberation Sans', 'Noto Sans CJK JP']
gray = '#d9d9d9'


def cell(x0, x1, y0, y1, fc='white'):
    bg.add_patch(Rectangle((x0, y0), x1 - x0, y1 - y0, fc=fc, ec='black', lw=1.0))


for b, cols in enumerate(table_blocks):
    r0 = 4 * b
    y0, y1 = row_y[r0], row_y[r0 + 1]
    cell(col_x[0], col_x[1], y0, y1, gray)
    bg.text((col_x[0] + col_x[1]) / 2, (y0 + y1) / 2, "調査月", ha='center', va='center',
            fontsize=10.5, color='#8a8a8a' if b == 2 else 'black')
    for k, m in enumerate(table_months):
        ya, yb = row_y[r0 + 1 + k], row_y[r0 + 2 + k]
        cell(col_x[0], col_x[1], ya, yb)
        bg.text((col_x[0] + col_x[1]) / 2, (ya + yb) / 2, m, ha='center', va='center', fontsize=10.5)
    for c, (well, layer) in enumerate(cols):
        xa, xb = col_x[c + 1], col_x[c + 2]
        cell(xa, xb, y0, y1, gray)
        bg.text((xa + xb) / 2, (y0 + y1) / 2, well.replace("-", "−") + circ[layer],
                ha='center', va='center', fontsize=9.5, family=num_font)
        for k, v in enumerate(layers[layer][well][-3:]):
            ya, yb = row_y[r0 + 1 + k], row_y[r0 + 2 + k]
            cell(xa, xb, ya, yb)
            bg.text(xb - 4, (ya + yb) / 2, fmt(v), ha='right', va='center',
                    fontsize=10.3, family=num_font)
    if len(cols) < 11:
        xa, xb = col_x[11], col_x[12]
        ya, yb = row_y[r0], row_y[r0 + 4]
        cell(xa, xb, ya, yb)
        bg.plot([xa, xb], [ya, yb], color='black', lw=0.7)

bg.text(4, 348, "備考:①は地表から 5m 程度、②は地表から 35m 程度、③は地表から 45m 程度の層を対象としています。",
        fontsize=8.8, va='center')

# ---------------- three time-series charts ----------------
boxes = [(53, 355, 717, 563), (53, 571, 717, 791), (53, 798, 717, 1006)]
plots = [(121, 377, 622, 500), (118, 593, 619, 724), (121, 817, 621, 938)]
legend_pos = [(640, 376), (638, 580), (634, 818)]
legend_spacing = [0.58, 0.83, 0.63]
ylims = [(-3, 3), (-8, 1), (-7, 1)]
xlabel_y = [555, 782, 998]
ylabel_xy = [(68, 438), (67, 664), (70, 880)]
first_drop = [35, 48, 39]
label_idx = [3 * (k + 1) for k in range(len(tick_labels))]

for p in range(3):
    bx0, by0, bx1, by1 = boxes[p]
    bg.add_patch(Rectangle((bx0, by0), bx1 - bx0, by1 - by0, fill=False, ec='#505050', lw=1.0))

    left, top, right, bottom = plots[p]
    ax = fig.add_axes([left / W, 1 - bottom / H, (right - left) / W, (bottom - top) / H])
    layer = p + 1
    handles = []
    for well, vals in layers[layer].items():
        st = dict(styles[well])
        if layer == 2 and well == "T-7":
            st['marker'] = '+'
        ms = st.pop('ms', 3.7)
        h, = ax.plot(np.arange(len(vals)), vals, color='black', lw=0.7, ms=ms,
                     mec='black', mew=0.6, **st)
        handles.append(h)

    ax.set_xlim(-0.5, n_months - 0.5)
    ax.set_ylim(*ylims[p])
    yt = np.arange(ylims[p][0], ylims[p][1] + 0.5, 1.0)
    ax.set_yticks(yt)
    ax.set_yticklabels([fmt(v) for v in yt], fontsize=6.5, color='#222222')
    ax.tick_params(axis='y', length=2, width=0.5, pad=2)
    ax.yaxis.grid(True, color='#bdbdbd', lw=0.5, ls=(0, (2, 2)))
    ax.set_axisbelow(True)

    ax.set_xticks(label_idx)
    ax.set_xticklabels(tick_labels, rotation=90, fontsize=5.5, color='#333333')
    ax.set_xticks(np.arange(-0.5, n_months, 1), minor=True)
    ax.tick_params(axis='x', which='major', length=0, pad=3)
    ax.tick_params(axis='x', which='minor', length=2, width=0.5, direction='out')
    ax.annotate(first_label[1], xy=(0, 0), xycoords=('data', 'axes fraction'),
                xytext=(2.2, -2.2), textcoords='offset points', rotation=90,
                ha='center', va='top', fontsize=5.5, color='#333333')
    ax.annotate(first_label[0], xy=(0, 0), xycoords=('data', 'axes fraction'),
                xytext=(-4.3, -first_drop[p] * 0.72), textcoords='offset points', rotation=90,
                ha='center', va='top', fontsize=5.5, color='#333333')

    for side in ['left', 'bottom']:
        ax.spines[side].set_color('black')
        ax.spines[side].set_linewidth(0.8)
    for side in ['top', 'right']:
        ax.spines[side].set_color('#bbbbbb')
        ax.spines[side].set_linewidth(0.6)

    lx, ly = legend_pos[p]
    leg = ax.legend(handles, legend_labels[p], loc='upper left',
                    bbox_to_anchor=(lx / W, 1 - ly / H), bbox_transform=fig.transFigure,
                    fontsize=6.8, frameon=True, fancybox=False, edgecolor='#bbbbbb',
                    framealpha=1, handlelength=1.6, handletextpad=0.4,
                    labelspacing=legend_spacing[p], borderpad=0.45, borderaxespad=0)
    leg.get_frame().set_linewidth(0.6)

    fig.text(371 / W, 1 - xlabel_y[p] / H, "調査日", ha='center', va='center', fontsize=7)
    yx, yy = ylabel_xy[p]
    fig.text(yx / W, 1 - yy / H, "地下水位(T.P.m)", rotation=90, ha='center', va='center', fontsize=6.3)

fig.savefig("out.png", dpi=100)
